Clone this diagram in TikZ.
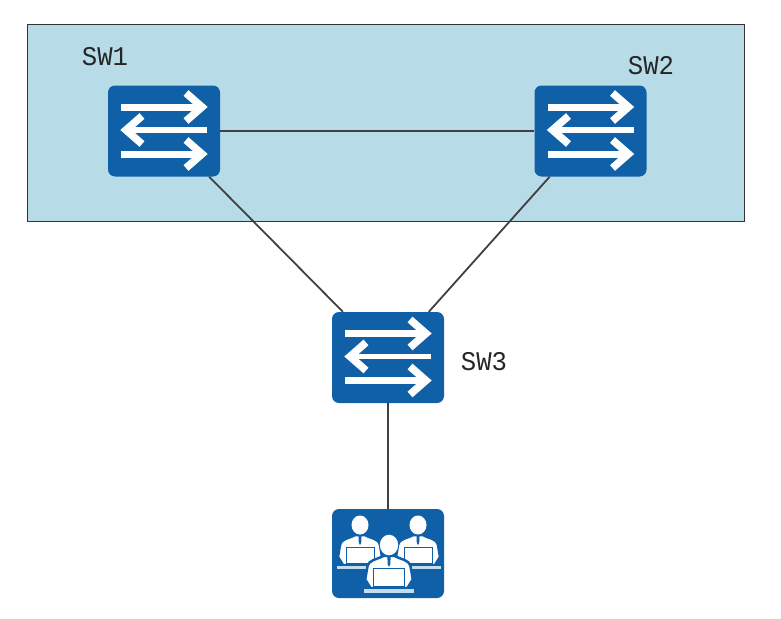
\documentclass[tikz,border=0pt]{standalone}
\usepackage{fontspec}
\setmainfont{Liberation Mono}
\definecolor{devblue}{HTML}{1060A8}
\definecolor{zonefill}{HTML}{B7DCE8}
\definecolor{wirecol}{HTML}{404040}
\definecolor{deskcol}{HTML}{C4DDEE}
\tikzset{
  x=1pt,y=-1pt,
  device/.style={fill=devblue,rounded corners=7pt,minimum width=112pt,minimum height=91pt,inner sep=0pt},
  wire/.style={draw=wirecol,line width=1.8pt},
  zone/.style={draw=black!80,line width=1pt,fill=zonefill},
  tag/.style={font=\fontsize{27}{27}\selectfont,text=black!85,inner sep=0pt,anchor=center,xscale=0.95},
  flow/.style={draw=white,line width=7pt},
  flowhead/.style={draw=white,line width=7.5pt,miter limit=10},
}
% The three-arrow switch glyph, drawn around the centre of a device node
\newcommand{\switchglyph}[1]{%
  \begin{scope}[shift={(#1.center)}]
    \draw[flow] (-43,-24) -- (36,-24);
    \draw[flowhead] (22,-38) -- (38,-24) -- (22,-10);
    \draw[flow,line width=5.5pt] (43,-1) -- (-36,-1);
    \draw[flowhead] (-22,-15) -- (-38,-1) -- (-22,13);
    \draw[flow] (-43,23) -- (36,23);
    \draw[flowhead] (22,9) -- (38,23) -- (22,37);
  \end{scope}}
% One seated user: head, shoulders, tie, laptop and desk
\newcommand{\seated}[3]{%
  \begin{scope}[shift={(#1,#2)},scale=#3]
    \fill[white,draw=devblue,line width=2.5pt] (-5,10) .. controls (-12,14) and (-18,13) .. (-20,20)
      -- (-22,32) -- (-17,40) -- (17,40) -- (22,32) -- (20,20)
      .. controls (18,13) and (12,14) .. (5,10) -- cycle;
    \fill[white] (0,0) ellipse[x radius=8.5,y radius=9.5];
    \fill[devblue] (-1.5,11) -- (1.5,11) -- (1.2,18) -- (0,20) -- (-1.2,18) -- cycle;
    \fill[white,draw=devblue,line width=1pt] (-14,22) rectangle (14,38);
    \fill[deskcol] (-23,41) rectangle (23,44);
  \end{scope}}
\begin{document}
\begin{tikzpicture}
  \useasboundingbox (0,0) rectangle (781,618);
  \node[zone,minimum width=717pt,minimum height=196pt,inner sep=0pt] (area) at (385.5,123) {};

  \node[device] (sw1) at (164,131) {};
  \node[device] (sw2) at (590.5,131) {};
  \node[device] (sw3) at (388,357.5) {};
  \node[device,minimum height=89pt] (users) at (388,553.5) {};

  \draw[wire] (sw1) -- (sw2);
  \draw[wire] (sw1) -- (sw3);
  \draw[wire] (sw2) -- (sw3);
  \draw[wire] (sw3) -- (users);

  \switchglyph{sw1}
  \switchglyph{sw2}
  \switchglyph{sw3}

  \seated{360}{525}{1}
  \seated{418}{525}{1}
  \seated{389}{545}{1.08}

  \node[tag] (lab1) at (105,57) {SW1};
  \node[tag] (lab2) at (651,66) {SW2};
  \node[tag] (lab3) at (484,362) {SW3};
\end{tikzpicture}
\end{document}
